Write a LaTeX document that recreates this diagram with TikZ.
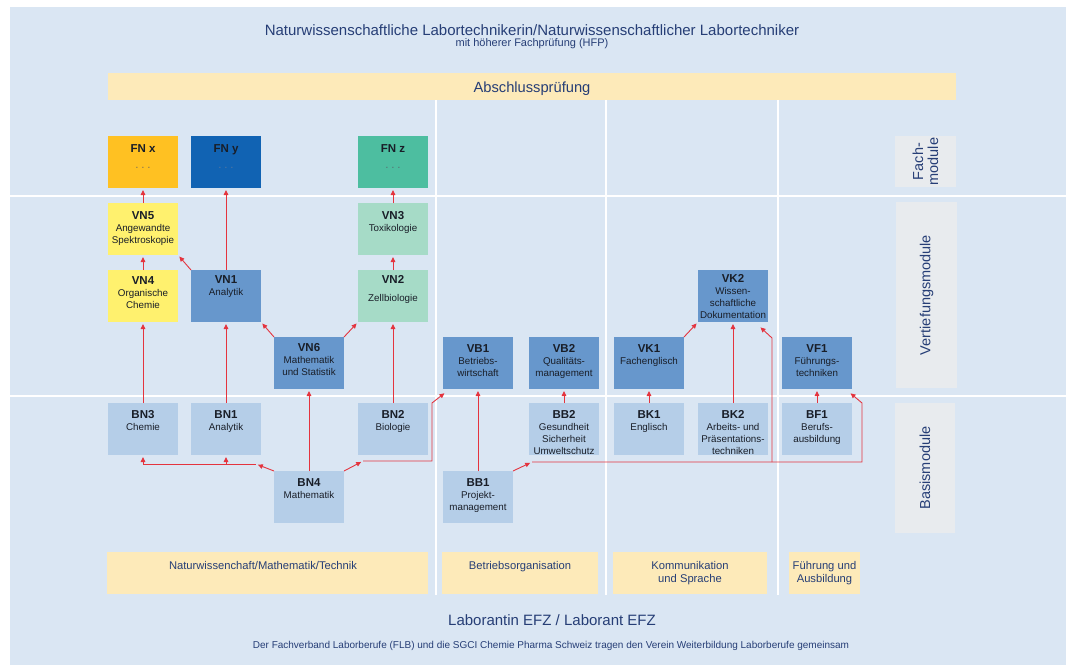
\documentclass[tikz,border=0pt]{standalone}
\usepackage{fontspec}
\setmainfont{Liberation Sans}
\usetikzlibrary{arrows.meta,calc}

\definecolor{bgc}{RGB}{218,230,243}
\definecolor{barc}{RGB}{253,234,185}
\definecolor{lblc}{RGB}{232,235,238}
\definecolor{cFNx}{RGB}{255,193,34}
\definecolor{cFNy}{RGB}{17,99,179}
\definecolor{cFNz}{RGB}{77,190,160}
\definecolor{vyel}{RGB}{255,241,110}
\definecolor{vmint}{RGB}{166,219,199}
\definecolor{vblue}{RGB}{103,151,204}
\definecolor{bblue}{RGB}{181,206,232}
\definecolor{arrc}{RGB}{228,52,62}
\definecolor{navy}{RGB}{38,62,118}
\definecolor{boxtxt}{RGB}{25,30,40}
\definecolor{dotc}{RGB}{90,90,100}
\definecolor{dotcb}{RGB}{105,125,155}

\tikzset{
  mbox/.style={minimum width=70pt, minimum height=52pt, inner sep=0pt, outer sep=0pt, draw=none},
  mtxt/.style={anchor=north, align=center, inner sep=0pt, text=boxtxt, font=\fontsize{9.8}{12}\selectfont},
  arr/.style={draw=arrc, line width=0.9pt, -{Triangle[length=5pt,width=4.5pt]}, shorten >=2pt},
  wline/.style={draw=white, line width=2.5pt},
  bar/.style={fill=barc, draw=none, inner sep=0pt},
  cattxt/.style={align=center, text=navy, font=\fontsize{11.2}{13}\selectfont, anchor=north, inner sep=0pt},
  lbox/.style={fill=lblc, inner sep=0pt, rotate=90, text=navy, align=center, font=\fontsize{14.5}{15}\selectfont},
}

\newcommand\modbox[7]{%
  \node[mbox, fill=#4] (#1) at (#2,#3) {};
  \node[mtxt] (#1t) at ([yshift=#7]#1.north) {{\fontsize{11.5}{12}\selectfont\bfseries #5}\\#6};
}

\begin{document}
\begin{tikzpicture}[x=1pt,y=-1pt]
\useasboundingbox (0,0) rectangle (1069,665);
\fill[white] (0,0) rectangle (1069,665);
\fill[bgc] (10,7) rectangle (1066,665);

% titles
\node[anchor=base, text=navy, font=\fontsize{15}{18}\selectfont, inner sep=0pt] (title) at (532,35)
  {Naturwissenschaftliche Labortechnikerin/Naturwissenschaftlicher Labortechniker};
\node[anchor=base, text=navy, font=\fontsize{11}{13}\selectfont, inner sep=0pt] (subtitle) at (532,46.5)
  {mit höherer Fachprüfung (HFP)};

% Abschlusspruefung bar
\node[bar, minimum width=848pt, minimum height=27pt] (absch) at (532,86.5) {};
\node[anchor=base, text=navy, font=\fontsize{14.7}{16}\selectfont, inner sep=0pt] (abscht) at (532,92.5) {Abschlussprüfung};

% white grid lines
\draw[wline] (10,196) -- (1066,196);
\draw[wline] (10,396) -- (1066,396);
\draw[wline] (436,100) -- (436,595);
\draw[wline] (606,100) -- (606,595);
\draw[wline] (778,100) -- (778,595);

% right side labels
\node[lbox, minimum width=51pt, minimum height=61pt] (lfach) at (925.5,161.5) {Fach-\\module};
\node[lbox, minimum width=186pt, minimum height=61pt] (lvert) at (926.5,295) {Vertiefungsmodule};
\node[lbox, minimum width=130pt, minimum height=60pt] (lbasis) at (925,468) {Basismodule};

% FN boxes
\node[mbox, fill=cFNx] (fnx) at (143,162) {};
\node[mtxt] (fnxt) at ([yshift=-7.9pt]fnx.north) {{\fontsize{11.5}{12}\selectfont\bfseries FN x}\\[6.5pt]{\color{dotc}· · ·}};
\node[mbox, fill=cFNy] (fny) at (226,162) {};
\node[mtxt] (fnyt) at ([yshift=-7.9pt]fny.north) {{\fontsize{11.5}{12}\selectfont\bfseries FN y}\\[6.5pt]{\color{dotcb}· · ·}};
\node[mbox, fill=cFNz] (fnz) at (393,162) {};
\node[mtxt] (fnzt) at ([yshift=-7.9pt]fnz.north) {{\fontsize{11.5}{12}\selectfont\bfseries FN z}\\[6.5pt]{\color{dotc}· · ·}};

% Vertiefungsmodule
\modbox{vn5}{143}{229}{vyel}{VN5}{Angewandte\\Spektroskopie}{-8.5pt}
\modbox{vn4}{143}{296}{vyel}{VN4}{Organische\\Chemie}{-6pt}
\modbox{vn1}{226}{296}{vblue}{VN1}{Analytik}{-5pt}
\modbox{vn3}{393}{229}{vmint}{VN3}{Toxikologie}{-8.5pt}
\modbox{vn2}{393}{296}{vmint}{VN2}{[6pt]Zellbiologie}{-5pt}
\modbox{vn6}{309}{363}{vblue}{VN6}{Mathematik\\und Statistik}{-6pt}
\modbox{vb1}{478}{363}{vblue}{VB1}{Betriebs-\\wirtschaft}{-7pt}
\modbox{vb2}{564}{363}{vblue}{VB2}{Qualitäts-\\management}{-7pt}
\modbox{vk1}{649}{363}{vblue}{VK1}{Fachenglisch}{-7pt}
\modbox{vk2}{733}{296}{vblue}{VK2}{Wissen-\\schaftliche\\Dokumentation}{-4pt}
\modbox{vf1}{817}{363}{vblue}{VF1}{Führungs-\\techniken}{-7pt}

% Basismodule
\modbox{bn3}{143}{429}{bblue}{BN3}{Chemie}{-7pt}
\modbox{bn1}{226}{429}{bblue}{BN1}{Analytik}{-7pt}
\modbox{bn2}{393}{429}{bblue}{BN2}{Biologie}{-7pt}
\modbox{bn4}{309}{497}{bblue}{BN4}{Mathematik}{-7pt}
\modbox{bb1}{478}{497}{bblue}{BB1}{Projekt-\\management}{-7pt}
\modbox{bb2}{564}{429}{bblue}{BB2}{Gesundheit\\Sicherheit\\Umweltschutz}{-7pt}
\modbox{bk1}{649}{429}{bblue}{BK1}{Englisch}{-7pt}
\modbox{bk2}{733}{429}{bblue}{BK2}{Arbeits- und\\Präsentations-\\techniken}{-7pt}
\modbox{bf1}{817}{429}{bblue}{BF1}{Berufs-\\ausbildung}{-7pt}

% category bars
\node[bar, minimum width=321pt, minimum height=42pt] (cnat) at (267.5,573) {};
\node[cattxt] (cnatt) at (263,561.5) {Naturwissenchaft/Mathematik/Technik};
\node[bar, minimum width=156pt, minimum height=42pt] (cbet) at (520,573) {};
\node[cattxt] (cbett) at (520,561.5) {Betriebsorganisation};
\node[bar, minimum width=154pt, minimum height=42pt] (ckom) at (690,573) {};
\node[cattxt] (ckomt) at (690,561.5) {Kommunikation\\und Sprache};
\node[bar, minimum width=71pt, minimum height=42pt] (cfue) at (824.5,573) {};
\node[cattxt] (cfuet) at (824.5,561.5) {Führung und\\Ausbildung};

% footer
\node[anchor=base, text=navy, font=\fontsize{15}{18}\selectfont, inner sep=0pt] (foot1) at (552,625)
  {Laborantin EFZ / Laborant EFZ};
\node[anchor=base, text=navy, font=\fontsize{10}{12}\selectfont, inner sep=0pt] (foot2) at (551,648)
  {Der Fachverband Laborberufe (FLB) und die SGCI Chemie Pharma Schweiz tragen den Verein Weiterbildung Laborberufe gemeinsam};

% bus coordinates
\coordinate (busL) at (256,464);
\coordinate (busM) at (363,461);
\coordinate (busM1) at (432,461);
\coordinate (busM2) at (432,403);
\coordinate (busR) at (532,462);
\coordinate (busR1) at (862,462);
\coordinate (busR2) at (862,403);
\coordinate (busK) at (772,462);
\coordinate (busK1) at (772,338);

% connectors Fach <- Vertiefung
\draw[arr] (vn5) -- (fnx);
\draw[arr] (vn1) -- (fny);
\draw[arr] (vn3) -- (fnz);
\draw[arr] (vn4) -- (vn5);
\draw[arr] (vn2) -- (vn3);
\draw[arr] (vn1.north west) -- (vn5.south east);
\draw[arr] (vn6.north west) -- (vn1.south east);
\draw[arr] (vn6.north east) -- (vn2.south west);
\draw[arr] (vk1.north east) -- (vk2.south west);

% Basis -> Vertiefung
\draw[arr] (bn3) -- (vn4);
\draw[arr] (bn1) -- (vn1);
\draw[arr] (bn2) -- (vn2);
\draw[arr] (bn4) -- (vn6);
\draw[arr] (bb1) -- (vb1);
\draw[arr] (bb2) -- (vb2);
\draw[arr] (bk1) -- (vk1);
\draw[arr] (bk2) -- (vk2);
\draw[arr] (bf1) -- (vf1);

% buses
\draw[arr] (bn4.north west) -- (busL);
\draw[arr] (busL) -| (bn3.south);
\draw[arr] (bn1.south |- busL) -- (bn1.south);
\draw[arr] (bn4.north east) -- (busM);
\draw[arr] (busM) -- (busM1) -- (busM2) -- ($(vb1.south west)+(3,3)$);
\draw[arr] (bb1.north east) -- (busR);
\draw[arr] (busR) -- (busR1) -- (busR2) -- ($(vf1.south east)+(-3,3)$);
\draw[arr] (busK) -- (busK1) -- ($(vk2.south east)+(-9,4)$);
\end{tikzpicture}
\end{document}
